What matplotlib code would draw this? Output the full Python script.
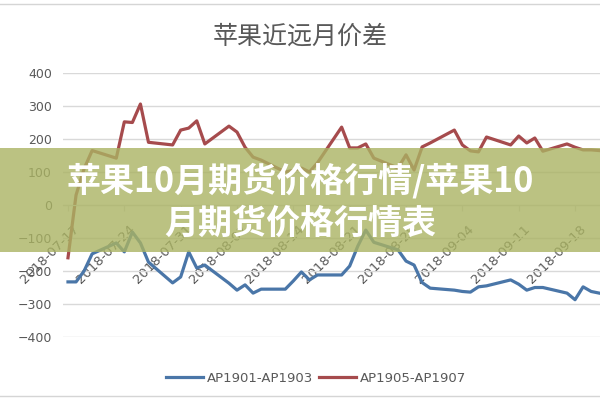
import matplotlib
matplotlib.use('Agg')
import matplotlib.pyplot as plt
import matplotlib.dates as mdates
from matplotlib.patches import Rectangle
from matplotlib.lines import Line2D
from matplotlib.transforms import ScaledTranslation
import pandas as pd

plt.rcParams['font.family'] = ['DejaVu Sans']

# trading days shown on the chart
dates = pd.bdate_range('2018-07-17', '2018-09-21')

ap1901_1903 = [-233, -233, -200, -148,
               -115, -142, -82, -115, -173,
               -236, -218, -142, -191, -182,
               -237, -258, -242, -267, -255,
               -255, -230, -203, -227, -212,
               -212, -185, -125, -76, -113,
               -136, -170, -182, -235, -252,
               -258, -262, -264, -248, -245,
               -227, -240, -258, -250, -250,
               -267, -287, -248, -262, -267]

ap1905_1907 = [-160, 30, 110, 165,
               142, 252, 250, 306, 190,
               182, 227, 233, 255, 185,
               239, 221, 175, 145, 136,
               100, 105, 112, 100, 128,
               236, 173, 173, 185, 142,
               112, 152, 106, 176, 188,
               227, 182, 164, 161, 206,
               182, 209, 188, 203, 163,
               185, 175, 167, 167, 165]

series_names = ['AP1901-AP1903', 'AP1905-AP1907']
y_ticks = [-400, -300, -200, -100, 0, 100, 200, 300, 400]
x_tick_dates = pd.date_range('2018-07-17', '2018-09-18', freq='7D')
title = '苹果近远月价差'
banner_lines = ['苹果10月期货价格行情/苹果10', '月期货价格行情表']

grey_txt = '#595959'
grid_col = '#d9d9d9'

fig = plt.figure(figsize=(6, 4), dpi=100)
ax = fig.add_axes([0.105, 0.1575, 0.895, 0.66])

l1, = ax.plot(dates, ap1901_1903, color='#4A76A8', lw=2.3, solid_joinstyle='round')
l2, = ax.plot(dates, ap1905_1907, color='#A64B4D', lw=2.3, solid_joinstyle='round')

x0 = mdates.date2num(pd.Timestamp('2018-07-17'))
ax.set_xlim(x0 - 0.62, x0 + 66.1)
ax.set_ylim(-400, 400)
ax.set_yticks(y_ticks)
ax.grid(axis='y', color=grid_col, lw=1)
ax.set_axisbelow(True)
for s in ['top', 'right', 'left']:
    ax.spines[s].set_visible(False)
ax.spines['bottom'].set_position(('data', 0))
ax.spines['bottom'].set_color(grid_col)

ax.set_xticks(x_tick_dates)
ax.set_xticklabels([d.strftime('%Y-%m-%d') for d in x_tick_dates],
                   rotation=45, ha='right', va='center', rotation_mode='anchor')
ax.tick_params(axis='x', color=grid_col, labelcolor=grey_txt, length=4, pad=12, labelsize=9.5)
ax.tick_params(axis='y', length=0, pad=8, labelcolor=grey_txt, labelsize=9)
offset = ScaledTranslation(0.09, 0, fig.dpi_scale_trans)
for lab in ax.get_xticklabels():
    lab.set_transform(lab.get_transform() + offset)

fig.text(0.5, 0.9075, title, ha='center', va='center', fontsize=18,
         color=grey_txt, family=['Noto Sans CJK SC', 'DejaVu Sans'])

fig.legend([l1, l2], series_names, loc='center', bbox_to_anchor=(0.527, 0.055),
           ncol=2, frameon=False, handlelength=2.8, handletextpad=0.3,
           columnspacing=0.4, fontsize=9.5, labelcolor=grey_txt)

# thin frame lines at top and bottom
fig.add_artist(Line2D([0, 1], [0.99, 0.99], color='#d5d5d5', lw=1, transform=fig.transFigure))
fig.add_artist(Line2D([0, 1], [0.01, 0.01], color='#d5d5d5', lw=1, transform=fig.transFigure))

# overlay banner
fig.add_artist(Rectangle((0, 0.37), 1, 0.26, transform=fig.transFigure,
                         facecolor='#aab363', alpha=0.8, edgecolor='none', zorder=5))
fig.text(0.5, 0.5475, banner_lines[0], ha='center', va='center', fontsize=24.5,
         weight='bold', color='white', family=['Noto Sans CJK SC', 'DejaVu Sans'], zorder=6)
fig.text(0.5, 0.4425, banner_lines[1], ha='center', va='center', fontsize=24.5,
         weight='bold', color='white', family=['Noto Sans CJK SC', 'DejaVu Sans'], zorder=6)

fig.savefig('out.png', dpi=100)
